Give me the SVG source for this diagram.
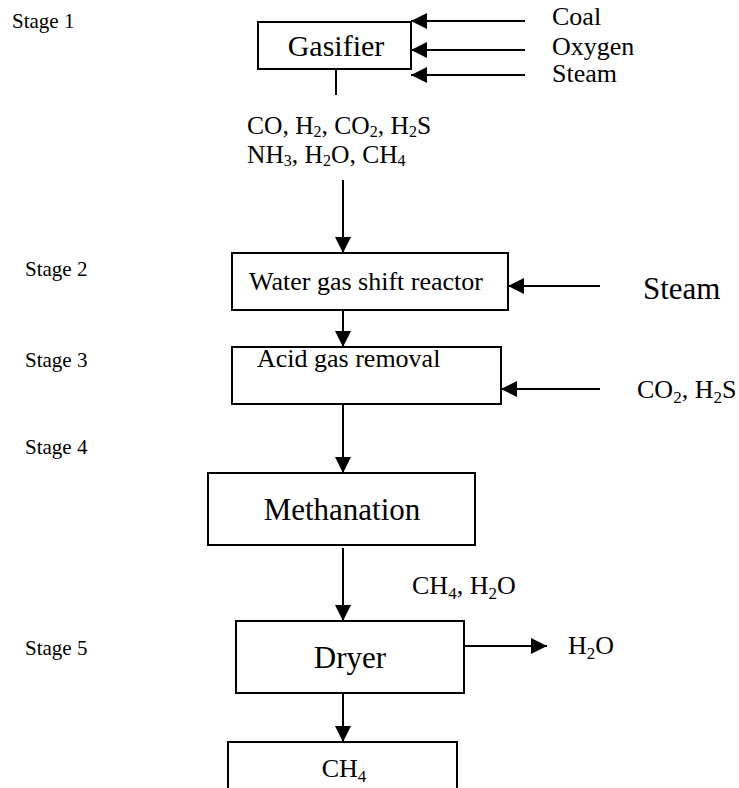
<svg xmlns="http://www.w3.org/2000/svg" width="739" height="788" viewBox="0 0 739 788">
<style>
text { font-family: "Liberation Serif", "Times New Roman", serif; fill: #000; }
.s { font-size: 21px; }
.t { font-size: 26px; }
.big { font-size: 31px; }
.sub { font-size: 17px; }
.sub2 { font-size: 16px; }
.box { fill: #fff; stroke: #000; stroke-width: 2; }
.ln { stroke: #000; stroke-width: 2; fill: none; }
</style>
<defs>
<marker id="ah" viewBox="0 0 16 16" refX="16" refY="8" markerWidth="16" markerHeight="16" markerUnits="userSpaceOnUse" orient="auto">
<path d="M0,0 L16,8 L0,16 Z" fill="#000"/>
</marker>
</defs>
<g id="labels">
<text class="s" x="12" y="28">Stage 1</text>
<text class="s" x="25" y="276">Stage 2</text>
<text class="s" x="25" y="367">Stage 3</text>
<text class="s" x="25" y="454">Stage 4</text>
<text class="s" x="25" y="655">Stage 5</text>
<text class="t" x="552" y="25">Coal</text>
<text class="t" x="552" y="55">Oxygen</text>
<text class="t" x="552" y="82">Steam</text>
<text class="t" x="247" y="134" style="font-size:25.5px">CO, H<tspan class="sub2" dy="3">2</tspan><tspan dy="-3">, CO</tspan><tspan class="sub2" dy="3">2</tspan><tspan dy="-3">, H</tspan><tspan class="sub2" dy="3">2</tspan><tspan dy="-3">S</tspan></text>
<text class="t" x="247" y="163" style="font-size:25.5px">NH<tspan class="sub2" dy="3">3</tspan><tspan dy="-3">, H</tspan><tspan class="sub2" dy="3">2</tspan><tspan dy="-3">O, CH</tspan><tspan class="sub2" dy="3">4</tspan></text>
<text class="big" x="643" y="299">Steam</text>
<text class="t" x="637" y="398">CO<tspan class="sub" dy="5">2</tspan><tspan dy="-5">, H</tspan><tspan class="sub" dy="5">2</tspan><tspan dy="-5">S</tspan></text>
<text class="t" x="412" y="594">CH<tspan class="sub" dy="5">4</tspan><tspan dy="-5">, H</tspan><tspan class="sub" dy="5">2</tspan><tspan dy="-5">O</tspan></text>
<text class="t" x="568" y="654">H<tspan class="sub" dy="5">2</tspan><tspan dy="-5">O</tspan></text>
</g>
<g id="gasifier">
<rect class="box" x="258" y="22" width="153" height="47"/>
<text class="t" x="336" y="56" text-anchor="middle" style="font-size:30px">Gasifier</text>
</g>
<g id="wgs">
<rect class="box" x="232" y="253" width="276" height="57"/>
<text class="t" x="366" y="290" text-anchor="middle">Water gas shift reactor</text>
</g>
<g id="agr">
<rect class="box" x="232" y="347" width="269" height="57"/>
<text class="t" x="257" y="367">Acid gas removal</text>
</g>
<g id="meth">
<rect class="box" x="208" y="473" width="267" height="72"/>
<text class="big" x="342" y="520" text-anchor="middle">Methanation</text>
</g>
<g id="dryer">
<rect class="box" x="236" y="621" width="228" height="72"/>
<text class="big" x="350" y="668" text-anchor="middle">Dryer</text>
</g>
<g id="product">
<rect class="box" x="228" y="742" width="229" height="60"/>
<text class="t" x="344" y="777" text-anchor="middle">CH<tspan class="sub" dy="5">4</tspan></text>
</g>
<g id="connectors">
<line class="ln" x1="525" y1="21" x2="411" y2="21" marker-end="url(#ah)"/>
<line class="ln" x1="525" y1="50" x2="411" y2="50" marker-end="url(#ah)"/>
<line class="ln" x1="525" y1="75" x2="411" y2="75" marker-end="url(#ah)"/>
<line class="ln" x1="336" y1="69" x2="336" y2="95"/>
<line class="ln" x1="343" y1="180" x2="343" y2="253" marker-end="url(#ah)"/>
<line class="ln" x1="600" y1="286" x2="508" y2="286" marker-end="url(#ah)"/>
<line class="ln" x1="343" y1="310" x2="343" y2="347" marker-end="url(#ah)"/>
<line class="ln" x1="600" y1="389" x2="501" y2="389" marker-end="url(#ah)"/>
<line class="ln" x1="343" y1="404" x2="343" y2="473" marker-end="url(#ah)"/>
<line class="ln" x1="343" y1="548" x2="343" y2="621" marker-end="url(#ah)"/>
<line class="ln" x1="464" y1="646" x2="547" y2="646" marker-end="url(#ah)"/>
<line class="ln" x1="343" y1="693" x2="343" y2="742" marker-end="url(#ah)"/>
</g>
</svg>
